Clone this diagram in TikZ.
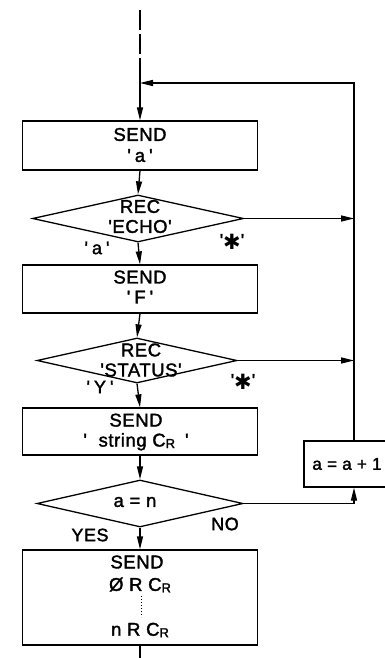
\documentclass[tikz,border=0pt]{standalone}
\usepackage{fontspec}
\newfontfamily\dfont{Liberation Sans}[FakeBold=1.8, LetterSpace=3]
\newfontfamily\djv{DejaVu Sans}
\usetikzlibrary{arrows.meta,shapes.geometric}
\newcommand{\CR}{C\raisebox{-0.15ex}{\fontsize{13}{13}\selectfont R}}
\newcommand{\heavyast}{\raisebox{-0.35ex}{\djv\fontsize{21}{21}\selectfont ✱}}
\newcommand{\qs}{\hspace{4pt}}
\begin{document}
\begin{tikzpicture}[x=1pt,y=-1pt,
  line width=1.3pt,
  every node/.style={font=\dfont\fontsize{18.5}{20}\selectfont, inner sep=0pt},
  procbox/.style={draw, rectangle, minimum width=235pt},
  decbox/.style={draw, diamond},
  txt/.style={align=center},
  arr/.style={-{Triangle[length=13pt,width=6pt]}},
  lbl/.style={font=\dfont\fontsize{18}{19}\selectfont}]
\useasboundingbox (0,0) rectangle (385,658);
\clip (0,0) rectangle (385,658);
% nodes
\node[procbox, minimum height=49pt] (b1) at (140,145.5) {};
\node[txt] (b1t) at (140,145) {SEND\\[1pt]'\qs a\qs '};
\node[decbox, minimum width=211pt, minimum height=47pt] (d1) at (138,218.5) {};
\node[txt] (d1t) at (140,216.5) {REC\\'ECHO'};
\node[procbox, minimum height=48pt] (b2) at (140,289) {};
\node[txt] (b2t) at (140,287) {SEND\\'\qs F\qs '};
\node[decbox, minimum width=200pt, minimum height=45pt] (d2) at (137,360.5) {};
\node[txt] (d2t) at (141,360) {REC\\'STATUS'};
\node[procbox, minimum height=47pt] (b3) at (140,431.5) {};
\node[txt] (b3t) at (136,432) {SEND\\'\hspace{6pt} string \CR\hspace{10pt}'};
\node[decbox, minimum width=206pt, minimum height=47pt] (d3) at (140,503.5) {};
\node (d3t) at (135,502) {a = n};
\node[procbox, minimum height=95pt] (b4) at (140,597.5) {};
\node (b4a) at (137,562) {SEND};
\node (b4b) at (140,585) {Ø R \CR};
\node (b4c) at (140,630) {n R \CR};
\node[draw, rectangle, minimum width=96pt, minimum height=46pt] (ba) at (352,464) {};
\node[font=\dfont\fontsize{17}{18}\selectfont] (bat) at (347,464) {a = a + 1};
% labels
\node[lbl] (la) at (97,248) {'\qs a\qs '};
\node[lbl] (lx1) at (232,242) {'\heavyast'};
\node[lbl] (ly) at (100,387) {'\qs Y\qs '};
\node[lbl] (lx2) at (243,382) {'\heavyast'};
\node[lbl] (lno) at (225,524) {NO};
\node[lbl] (lyes) at (90,535) {YES};
% coordinates
\coordinate (top) at (140,10);
\coordinate (dend) at (140,66);
\coordinate (J) at (140,83);
\coordinate (R0) at (354,83);
\coordinate (R1) at (354,218.5);
\coordinate (R2) at (354,360.5);
\coordinate (R3) at (354,503.5);
\coordinate (bot) at (140,658);
% connectors
\draw[dash pattern=on 20pt off 4pt] (top) -- (dend);
\draw (dend) -- (J);
\draw[arr] (J) -- (b1.north);
\draw[arr] (b1.south) -- (d1.north);
\draw[arr] (d1.south) -- (b2.north);
\draw[arr] (b2.south) -- (d2.north);
\draw[arr] (d2.south) -- (b3.north);
\draw[arr] (b3.south) -- (d3.north);
\draw[arr] (d3.south) -- (b4.north);
\draw (b4.south) -- (bot);
\draw[arr] (d1.east) -- (R1);
\draw[arr] (d2.east) -- (R2);
\draw[arr] (d3.east) -- (R3) -- (ba.south -| R3);
\draw[arr] (ba.north -| R0) -- (R0) -- (J);
\draw[line width=1pt, dotted] (141,596) -- (141,617);
\end{tikzpicture}
\end{document}
